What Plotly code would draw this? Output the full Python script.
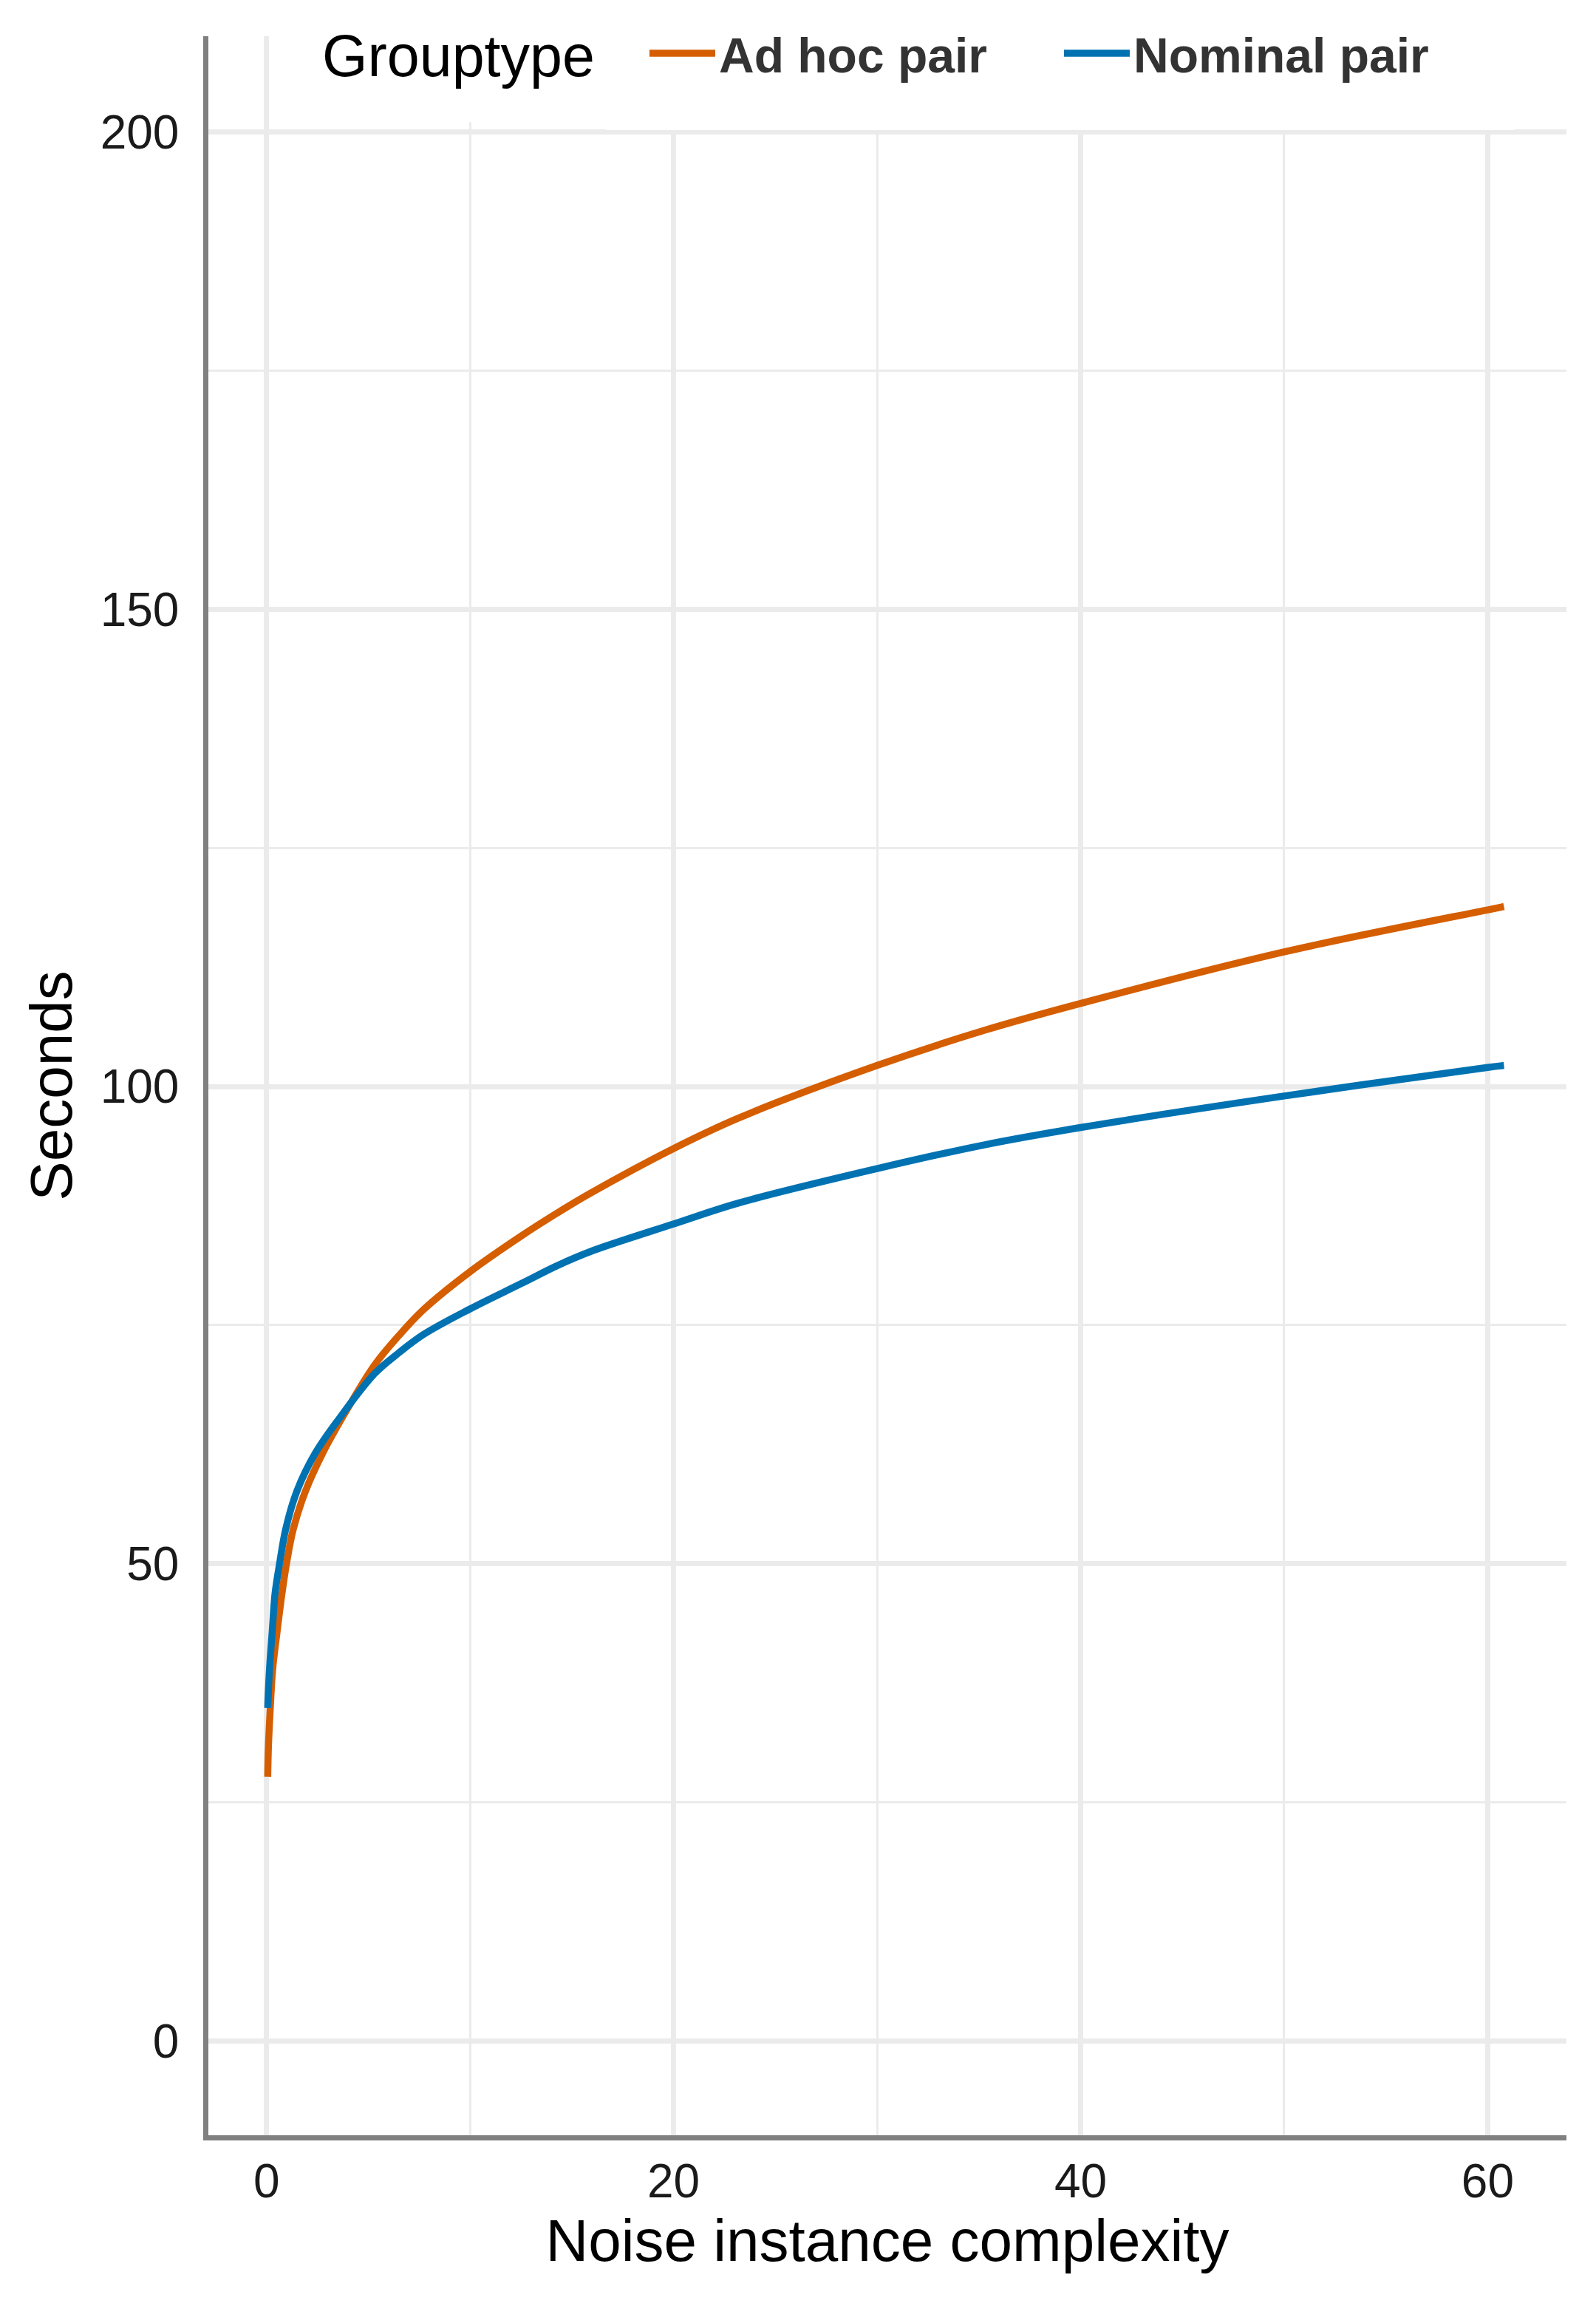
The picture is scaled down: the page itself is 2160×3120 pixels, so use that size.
import plotly.graph_objects as go

# ---- data ----
adhoc_x = [0.06, 0.095, 0.18, 0.30, 0.52, 0.76, 0.98, 1.31, 1.91, 2.76, 3.8, 5.3, 6.5, 7.7,
           10.0, 12.56, 14.25, 15.9, 20.0, 23.2, 30.0, 35.3, 40.0, 50.0, 60.0, 60.8]
adhoc_y = [27.7, 30.9, 34.7, 38.9, 42.9, 46.9, 50.0, 53.6, 57.6, 61.6, 65.6, 70.8, 73.9, 76.6,
           80.6, 84.4, 86.7, 88.8, 93.5, 96.7, 102.2, 105.9, 108.7, 114.1, 118.5, 118.85]

nominal_x = [0.06, 0.145, 0.28, 0.42, 0.64, 0.94, 1.49, 2.40, 3.6, 5.3, 6.5, 7.7, 10.0,
             12.56, 14.25, 15.9, 20.0, 23.2, 30.0, 35.3, 40.0, 50.0, 60.0, 60.8]
nominal_y = [34.9, 38.9, 42.9, 46.9, 50.0, 53.6, 57.6, 61.6, 65.3, 69.9, 72.1, 74.0, 76.7,
             79.4, 81.2, 82.7, 85.6, 87.8, 91.4, 93.9, 95.7, 99.0, 102.0, 102.2]

series_names = ["Ad hoc pair", "Nominal pair"]
series_colors = ["#D55E00", "#0072B2"]
legend_title = "Grouptype"

x_ticks = [0, 20, 40, 60]
x_minor = [10, 30, 50]
y_ticks = [0, 50, 100, 150, 200]
y_minor = [25, 75, 125, 175]

FONT = "Liberation Sans, Arial, Helvetica, sans-serif"
GRID = "#EBEBEB"
AXIS = "#808080"

fig = go.Figure()
for xs, ys, nm, col in [(adhoc_x, adhoc_y, series_names[0], series_colors[0]),
                        (nominal_x, nominal_y, series_names[1], series_colors[1])]:
    fig.add_trace(go.Scatter(
        x=xs, y=ys, mode="lines", name=nm,
        line=dict(color=col, width=9.5, shape="spline", smoothing=1.0),
    ))

# The page body has an 8px default margin, so the figure is sized 16px smaller
fig.update_layout(
    width=2144, height=3104,
    margin=dict(l=274, r=32, t=41, b=223, pad=0, autoexpand=False),
    paper_bgcolor="white", plot_bgcolor="white",
    font=dict(family=FONT, color="#1A1A1A"),
    legend=dict(
        orientation="h", xref="paper", yref="paper",
        x=0.2927, xanchor="left", y=1.0283, yanchor="top",
        bgcolor="white", bordercolor="white", borderwidth=54,
        font=dict(family=FONT, size=66, color="#333333", weight="bold"),
        itemwidth=89, entrywidth=457, entrywidthmode="pixels",
        traceorder="normal",
    ),
    annotations=[dict(
        text=legend_title, xref="paper", yref="paper",
        x=0.0588, xanchor="left", y=0.9905, yanchor="middle",
        showarrow=False, bgcolor="white", borderpad=45,
        font=dict(family=FONT, size=79, color="#000000"),
    )],
)

fig.update_xaxes(
    range=[-2.857, 63.87], automargin=False,
    tickmode="array", tickvals=x_ticks, ticktext=[str(v) for v in x_ticks],
    showgrid=True, gridcolor=GRID, gridwidth=6.5,
    minor=dict(tickmode="array", tickvals=x_minor, showgrid=True,
               gridcolor=GRID, gridwidth=3.2, ticks=""),
    zeroline=False,
    showline=True, linecolor=AXIS, linewidth=6.5,
    ticks="",
    tickfont=dict(family=FONT, size=64, color="#1A1A1A"),
    title=dict(text="Noise instance complexity", standoff=18,
               font=dict(family=FONT, size=80, color="#000000")),
)
fig.update_yaxes(
    range=[-9.855, 210.01], automargin=False,
    tickmode="array", tickvals=y_ticks, ticktext=[str(v) for v in y_ticks],
    showgrid=True, gridcolor=GRID, gridwidth=6.5,
    minor=dict(tickmode="array", tickvals=y_minor, showgrid=True,
               gridcolor=GRID, gridwidth=3.2, ticks=""),
    zeroline=False,
    showline=True, linecolor=AXIS, linewidth=6.5,
    ticks="outside", ticklen=20, tickcolor="rgba(0,0,0,0)",
    tickfont=dict(family=FONT, size=64, color="#1A1A1A"),
    title=dict(text="Seconds", standoff=14,
               font=dict(family=FONT, size=80, color="#000000")),
)

fig.write_html("out.html")
